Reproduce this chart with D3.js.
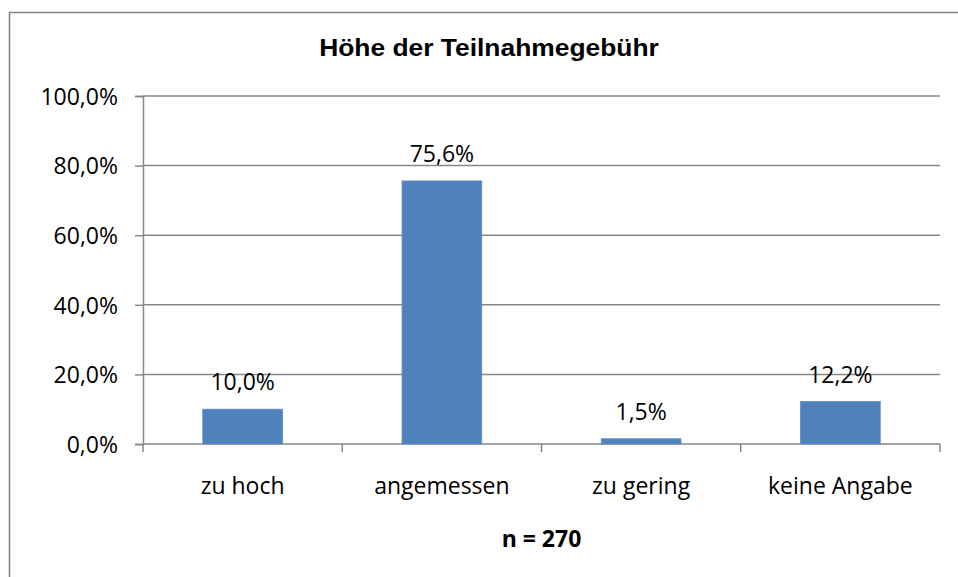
<!DOCTYPE html>
<html>
<head>
<meta charset="utf-8">
<script src="https://cdn.jsdelivr.net/npm/d3@7"></script>
<style>
  html, body { margin: 0; padding: 0; background: #fff; }
  svg { display: block; }
</style>
</head>
<body>
<svg id="chart"></svg>
<script>
// data
const categories = ["zu hoch", "angemessen", "zu gering", "keine Angabe"];
const values = [10.0, 75.6, 1.5, 12.2];
const yTicks = [0, 20, 40, 60, 80, 100];
const titleText = "Höhe der Teilnahmegebühr";
const xTitleText = "n = 270";

const width = 958, height = 577;
const plot = { left: 143, right: 940, top: 96, bottom: 444 };
const fontFamily = "'Open Sans', sans-serif";
const gridColor = "#878787";
const barColor = "#4f81bd";

const fmt = d => d.toFixed(1).replace(".", ",") + "%";

let svg = d3.select("#chart")
    .attr("width", width)
    .attr("height", height);

// outer frame (runs off the right and bottom edges)
svg.append("rect")
    .attr("x", 9.5).attr("y", 12.5)
    .attr("width", 980).attr("height", 600)
    .attr("fill", "none")
    .attr("stroke", gridColor)
    .attr("stroke-width", 1.6);

let x = d3.scaleBand()
    .domain(categories)
    .range([plot.left, plot.right])
    .paddingInner(0.6)
    .paddingOuter(0.3);

let y = d3.scaleLinear()
    .domain([0, 100])
    .range([plot.bottom, plot.top]);

// y axis with gridlines
let yAxis = d3.axisLeft(y)
    .tickValues(yTicks)
    .tickFormat(fmt)
    .tickSize(8)
    .tickPadding(17);

let gy = svg.append("g")
    .attr("transform", `translate(${plot.left}, 0)`)
    .call(yAxis);
gy.select(".domain").attr("stroke", gridColor).attr("stroke-width", 1.5);
gy.selectAll(".tick line").attr("stroke", gridColor).attr("stroke-width", 1.5);
gy.selectAll(".tick text")
    .attr("font-family", fontFamily)
    .attr("font-size", 23)
    .attr("fill", "#000")
    .attr("dy", "0.36em");

svg.append("g")
    .selectAll("line")
    .data(yTicks)
    .enter()
    .append("line")
    .attr("x1", plot.left)
    .attr("x2", plot.right)
    .attr("y1", d => y(d))
    .attr("y2", d => y(d))
    .attr("stroke", gridColor)
    .attr("stroke-width", 1.5);

// x axis: ticks sit on category boundaries
let step = x.step();
let boundaries = d3.range(categories.length + 1).map(i => plot.left + i * step);
svg.append("g")
    .selectAll("line")
    .data(boundaries)
    .enter()
    .append("line")
    .attr("x1", d => d).attr("x2", d => d)
    .attr("y1", plot.bottom).attr("y2", plot.bottom + 8)
    .attr("stroke", gridColor)
    .attr("stroke-width", 1.5);

svg.append("g")
    .selectAll("text")
    .data(categories)
    .enter()
    .append("text")
    .attr("x", d => x(d) + x.bandwidth() / 2)
    .attr("y", 494)
    .attr("text-anchor", "middle")
    .attr("font-family", fontFamily)
    .attr("font-size", 23)
    .text(d => d);

// bars
let data = categories.map((c, i) => ({ cat: c, val: values[i] }));
svg.append("g")
    .selectAll("rect")
    .data(data)
    .enter()
    .append("rect")
    .attr("x", d => x(d.cat))
    .attr("y", d => y(d.val))
    .attr("width", x.bandwidth())
    .attr("height", d => y(0) - y(d.val))
    .attr("fill", barColor)
    .attr("stroke", "#5f8dc4")
    .attr("stroke-width", 0.8);

// value labels
svg.append("g")
    .selectAll("text")
    .data(data)
    .enter()
    .append("text")
    .attr("x", d => x(d.cat) + x.bandwidth() / 2)
    .attr("y", d => y(d.val) - 19)
    .attr("text-anchor", "middle")
    .attr("font-family", fontFamily)
    .attr("font-size", 23)
    .text(d => fmt(d.val));

// title
svg.append("text")
    .attr("transform", "translate(489, 56) scale(1.1, 1)")
    .attr("text-anchor", "middle")
    .attr("font-family", "'Liberation Sans', Arial, sans-serif")
    .attr("font-weight", "bold")
    .attr("font-size", 24)
    .text(titleText);

// x axis title
svg.append("text")
    .attr("x", (plot.left + plot.right) / 2)
    .attr("y", 547)
    .attr("text-anchor", "middle")
    .attr("font-family", fontFamily)
    .attr("font-weight", "bold")
    .attr("font-size", 23)
    .text(xTitleText);
</script>
</body>
</html>
